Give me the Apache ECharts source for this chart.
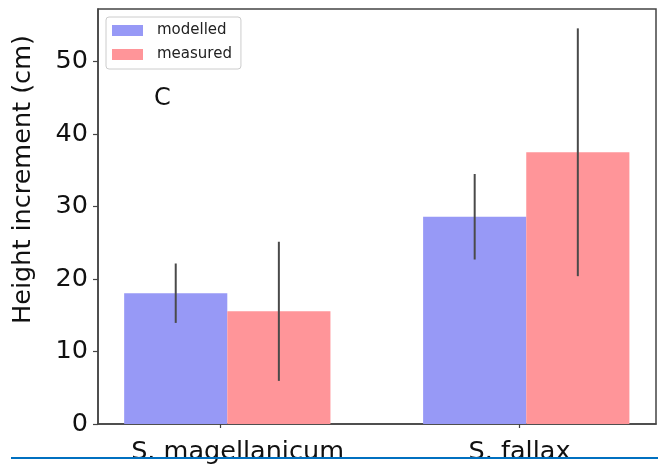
<!DOCTYPE html>
<html>
<head>
<meta charset="utf-8">
<script src="https://cdn.jsdelivr.net/npm/echarts@6/dist/echarts.min.js"></script>
<style>
html,body{margin:0;padding:0;background:#fff;}
#chart{width:658px;height:469px;}
</style>
</head>
<body>
<div id="chart"></div>
<script>
// ---- data ----
var categories = ['S. magellanicum', 'S. fallax'];
var seriesNames = ['modelled', 'measured'];
var modelled = [18.05, 28.6];
var modelledErr = [4.1, 5.9];
var measured = [15.55, 37.5];
var measuredErr = [9.6, 17.1];
var yTicks = [0, 10, 20, 30, 40, 50];
var panelLabel = 'C';

// ---- layout helpers (not data) ----
var FONT = 'DejaVu Sans';
var BAR_W = 0.345;
var OFFSETS = [-0.15, 0.195];
var COLORS = ['#9799f6', '#ff9599'];

function barData(vals) {
  return vals.map(function (v, i) { return [i, v]; });
}
function errData(vals, errs) {
  return vals.map(function (v, i) { return [i, v - errs[i], v + errs[i]]; });
}

function makeBarRender(offset, color) {
  return function (params, api) {
    var x = api.value(0) + offset;
    var v = api.value(1);
    var p1 = api.coord([x - BAR_W / 2, v]);
    var p2 = api.coord([x + BAR_W / 2, 0]);
    return {
      type: 'rect',
      shape: { x: p1[0], y: p1[1], width: p2[0] - p1[0], height: p2[1] - p1[1] },
      style: { fill: color }
    };
  };
}
function makeErrRender(offset) {
  return function (params, api) {
    var x = api.value(0) + offset;
    var lo = api.coord([x, api.value(1)]);
    var hi = api.coord([x, api.value(2)]);
    return {
      type: 'line',
      shape: { x1: lo[0], y1: lo[1], x2: hi[0], y2: hi[1] },
      style: { stroke: '#4a4a4a', lineWidth: 2 }
    };
  };
}

var chart = echarts.init(document.getElementById('chart'), null, { renderer: 'canvas' });

var option = {
  animation: false,
  backgroundColor: '#fff',
  textStyle: { fontFamily: FONT },
  grid: { left: 98, top: 9, right: 2, bottom: 45, containLabel: false, show: true, borderColor: '#444', borderWidth: 1.5, backgroundColor: 'transparent' },
  legend: {
    orient: 'vertical',
    left: 106, top: 17,
    padding: [6, 9, 7, 6],
    itemGap: 9,
    itemWidth: 31, itemHeight: 11,
    borderColor: '#cccccc', borderWidth: 1, borderRadius: 3,
    backgroundColor: '#fff',
    textStyle: { fontFamily: FONT, fontSize: 15, color: '#222', lineHeight: 15, padding: [0, 0, 0, 9] },
    data: [
      { name: seriesNames[0], icon: 'rect', itemStyle: { color: COLORS[0] } },
      { name: seriesNames[1], icon: 'rect', itemStyle: { color: COLORS[1] } }
    ]
  },
  xAxis: {
    type: 'value',
    min: -0.41, max: 1.4565,
    splitLine: { show: false },
    axisLine: { show: true, onZero: false, lineStyle: { color: '#444', width: 1.5 } },
    axisTick: { show: true, length: 4, lineStyle: { color: '#444', width: 1.2 }, customValues: [0, 1] },
    axisLabel: {
      customValues: [0, 1],
      margin: 15,
      formatter: function (v) {
        var i = Math.round(v);
        return i === 0 ? '{a|' + categories[i] + '}' : '{b|' + categories[i] + '}';
      },
      rich: {
        a: { fontFamily: FONT, fontSize: 25.5, color: '#111', padding: [0, 0, 0, 34] },
        b: { fontFamily: FONT, fontSize: 25.5, color: '#111' }
      }
    }
  },
  yAxis: {
    type: 'value',
    min: 0, max: 57.27,
    splitLine: { show: false },
    name: 'Height increment (cm)',
    nameLocation: 'middle',
    nameGap: 62,
    nameTextStyle: { fontFamily: FONT, fontSize: 25.5, color: '#111', padding: [0, 0, 0, 74] },
    axisLine: { show: true, onZero: false, lineStyle: { color: '#444', width: 1.5 } },
    axisTick: { show: true, length: 5, lineStyle: { color: '#444', width: 1.2 }, customValues: yTicks },
    axisLabel: { customValues: yTicks, margin: 10, fontFamily: FONT, fontSize: 25.5, color: '#111' }
  },
  graphic: [
    {
      type: 'text', left: 154, top: 87, z: 10,
      style: { text: panelLabel, font: '24px "DejaVu Sans"', fill: '#111' }
    },
    {
      type: 'line', z: 100,
      shape: { x1: 11, y1: 458, x2: 658, y2: 458 },
      style: { stroke: '#0070c0', lineWidth: 2 }
    }
  ],
  series: [
    { name: seriesNames[0], type: 'custom', itemStyle: { color: COLORS[0] }, renderItem: makeBarRender(OFFSETS[0], COLORS[0]), data: barData(modelled), z: 2 },
    { name: seriesNames[1], type: 'custom', itemStyle: { color: COLORS[1] }, renderItem: makeBarRender(OFFSETS[1], COLORS[1]), data: barData(measured), z: 2 },
    { name: 'modelledErr', type: 'custom', renderItem: makeErrRender(OFFSETS[0]), data: errData(modelled, modelledErr), z: 3 },
    { name: 'measuredErr', type: 'custom', renderItem: makeErrRender(OFFSETS[1]), data: errData(measured, measuredErr), z: 3 }
  ]
};
chart.setOption(option);
</script>
</body>
</html>
